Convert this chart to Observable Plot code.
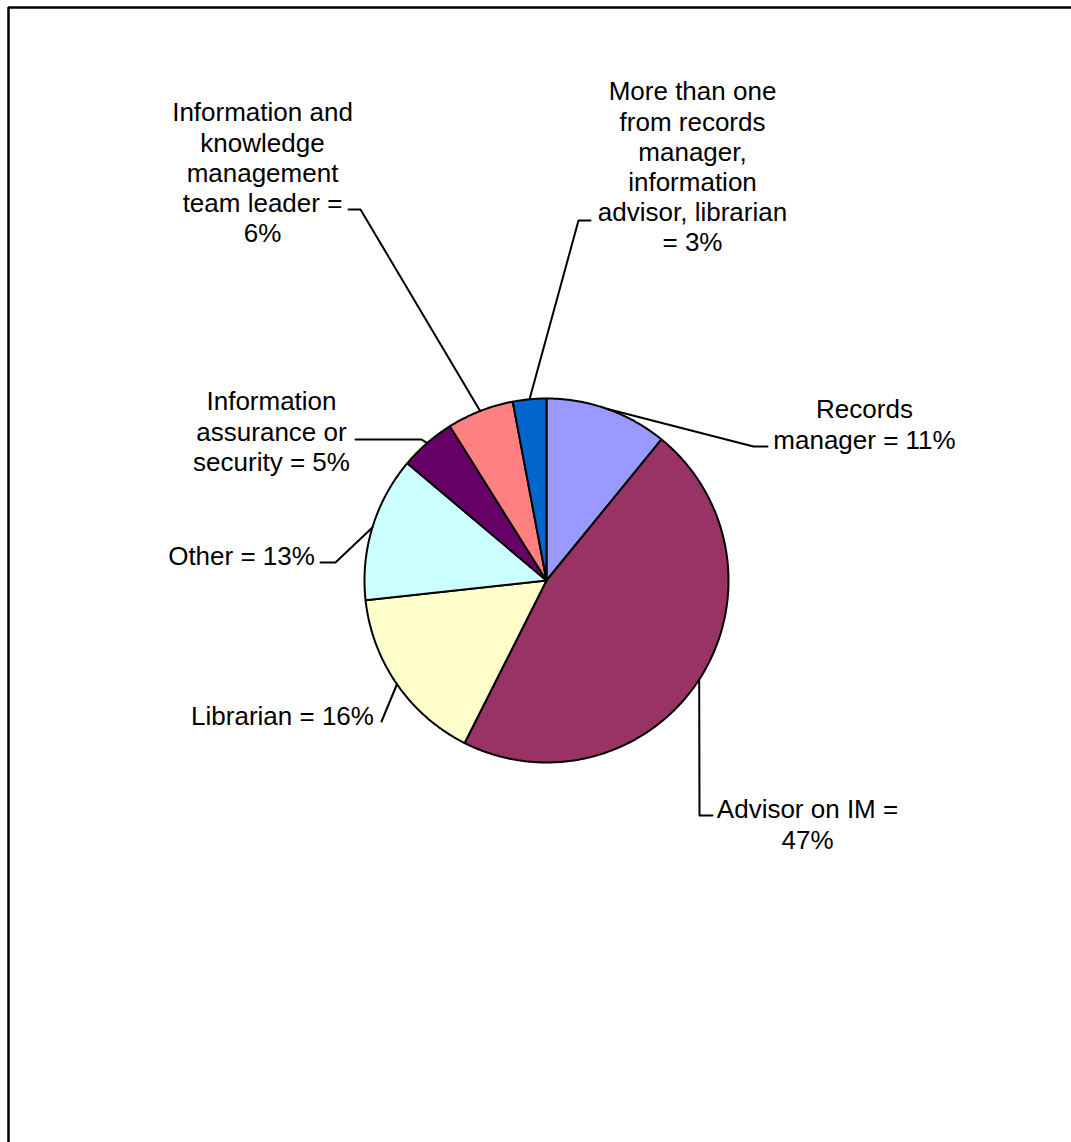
<!DOCTYPE html>
<html><head><meta charset="utf-8">
<script src="https://cdn.jsdelivr.net/npm/d3@7"></script>
<script src="https://cdn.jsdelivr.net/npm/@observablehq/plot@0.6"></script>
<style>html,body{margin:0;padding:0;background:#fff;} svg{display:block;}</style>
</head><body><div id="chart"></div>
<script>
// ---- data ----
const categories = ["Records manager", "Advisor on IM", "Librarian", "Other",
  "Information assurance or security",
  "Information and knowledge management team leader",
  "More than one from records manager, information advisor, librarian"];
const values = [11, 47, 16, 13, 5, 6, 3];
const labelTexts = [
  "Records\nmanager = 11%",
  "Advisor on IM =\n47%",
  "Librarian = 16%",
  "Other = 13%",
  "Information\nassurance or\nsecurity = 5%",
  "Information and\nknowledge\nmanagement\nteam leader =\n6%",
  "More than one\nfrom records\nmanager,\ninformation\nadvisor, librarian\n= 3%"];
const sliceColors = ["#9999FF", "#993366", "#FFFFCC", "#CCFFFF", "#660066", "#FF8080", "#0066CC"];

// ---- layout ----
const W = 1071, H = 1142;
const PIE = {cx: 546, cy: 580, r: 182};
const FONT = 26;
// label centre x, first-line baseline y, leader elbow and end
const labelLayout = [
  {x: 864, y: 415, elbow: [753, 446], end: [767, 446]},
  {x: 807, y: 815, elbow: [699, 815], end: [712, 815]},
  {x: 282, y: 722, elbow: [381, 721], end: [381, 721]},
  {x: 241, y: 562, elbow: [335, 562], end: [320, 562]},
  {x: 271, y: 407, elbow: [421, 439], end: [355, 439]},
  {x: 262, y: 118, elbow: [360, 209], end: [348, 209]},
  {x: 692, y: 97, elbow: [578, 220], end: [590, 220]}
];

const arcs = d3.pie().sort(null).startAngle(0).endAngle(2 * Math.PI)(values);
const pt = (a, r) => [PIE.cx + r * Math.sin(a), PIE.cy - r * Math.cos(a)];

const wedgePts = [];
arcs.forEach((a, i) => {
  const cat = categories[i];
  wedgePts.push({cat, x: PIE.cx, y: PIE.cy});
  const n = Math.max(2, Math.ceil((a.endAngle - a.startAngle) / (Math.PI / 360)));
  for (let k = 0; k <= n; k++) {
    const ang = a.startAngle + (a.endAngle - a.startAngle) * k / n;
    const [x, y] = pt(ang, PIE.r);
    wedgePts.push({cat, x, y});
  }
  wedgePts.push({cat, x: PIE.cx, y: PIE.cy});
});

const leaderPts = [];
arcs.forEach((a, i) => {
  const mid = (a.startAngle + a.endAngle) / 2;
  const [x0, y0] = pt(mid, PIE.r);
  const L = labelLayout[i];
  leaderPts.push({cat: categories[i], x: x0, y: y0});
  leaderPts.push({cat: categories[i], x: L.elbow[0], y: L.elbow[1]});
  leaderPts.push({cat: categories[i], x: L.end[0], y: L.end[1]});
});

const labelData = categories.map((c, i) => ({
  cat: c, text: labelTexts[i], x: labelLayout[i].x, y: labelLayout[i].y - 0.71 * FONT
}));

const chart = Plot.plot({
  width: W, height: H,
  marginTop: 0, marginRight: 0, marginBottom: 0, marginLeft: 0,
  x: {domain: [0, W], range: [0, W], axis: null},
  y: {domain: [0, H], range: [0, H], axis: null},
  color: {domain: categories, range: sliceColors},
  style: {fontFamily: "'Liberation Sans', Arial, sans-serif", background: "#fff"},
  marks: [
    Plot.ruleY([7], {x1: 8, x2: W, stroke: "#000", strokeWidth: 2.5}),
    Plot.ruleX([8], {y1: 7, y2: H, stroke: "#000", strokeWidth: 2.5}),
    Plot.line(wedgePts, {x: "x", y: "y", z: "cat", fill: "cat", stroke: "#000", strokeWidth: 2, curve: "linear", strokeLinejoin: "round"}),
    Plot.line(leaderPts, {x: "x", y: "y", z: "cat", stroke: "#000", strokeWidth: 2, curve: "linear"}),
    Plot.text(labelData, {x: "x", y: "y", text: "text", fill: "#000", fontSize: FONT,
      lineAnchor: "top", lineHeight: 1.16, textAnchor: "middle"})
  ]
});
document.getElementById("chart").appendChild(chart);
</script>
</body></html>
